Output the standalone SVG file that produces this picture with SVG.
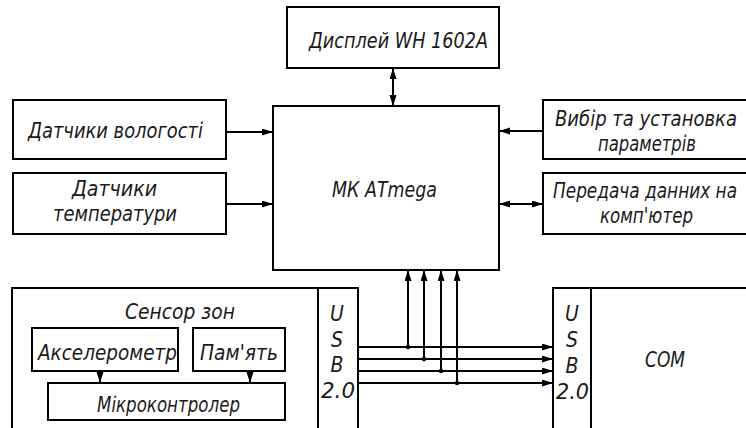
<svg xmlns="http://www.w3.org/2000/svg" width="746" height="428" viewBox="0 0 746 428">
<style>
rect{fill:#fff;stroke:#000;stroke-width:2}
.ln{fill:none;stroke:#000;stroke-width:2}
text{font-family:"DejaVu Sans Condensed","DejaVu Sans","Liberation Sans",sans-serif;font-stretch:condensed;font-style:italic;font-size:22px;fill:#1a1a1a}
.m{text-anchor:middle}
.u{font-size:21px}
</style>
<defs>
<marker id="ah" markerUnits="userSpaceOnUse" markerWidth="12" markerHeight="8" refX="11" refY="3.5" orient="auto-start-reverse"><path d="M0,0 L11,3.5 L0,7 z" fill="#000"/></marker>
</defs>
<g id="display"><rect x="287" y="7" width="212" height="61"/><text x="309" y="48" textLength="179" lengthAdjust="spacingAndGlyphs">Дисплей WH 1602A</text></g>
<g id="mk"><rect x="273" y="106" width="226" height="164"/><text x="332" y="197" textLength="105" lengthAdjust="spacingAndGlyphs">МК АТmega</text></g>
<g id="humidity"><rect x="13" y="100" width="213" height="59"/><text x="28" y="138" textLength="175" lengthAdjust="spacingAndGlyphs">Датчики вологості</text></g>
<g id="temperature"><rect x="13" y="173" width="213" height="61"/><text x="72" y="196" textLength="85" lengthAdjust="spacingAndGlyphs">Датчики</text><text x="53" y="221" textLength="124" lengthAdjust="spacingAndGlyphs">температури</text></g>
<g id="params"><rect x="543" y="100" width="210" height="59"/><text x="555" y="126" textLength="182" lengthAdjust="spacingAndGlyphs">Вибір та установка</text><text x="598" y="151" textLength="98" lengthAdjust="spacingAndGlyphs">параметрів</text></g>
<g id="transfer"><rect x="543" y="173" width="210" height="61"/><text x="553" y="198" textLength="184" lengthAdjust="spacingAndGlyphs">Передача данних на</text><text x="600" y="223" textLength="93" lengthAdjust="spacingAndGlyphs">комп'ютер</text></g>
<g id="sensor"><rect x="12" y="288" width="306" height="160"/><text x="125" y="319" textLength="110" lengthAdjust="spacingAndGlyphs">Сенсор зон</text></g>
<g id="usb1"><rect x="318" y="288" width="40" height="160"/><text class="m u" x="337" y="321">U</text><text class="m u" x="337" y="347">S</text><text class="m u" x="337" y="372">B</text><text class="u" x="321" y="398" textLength="34" lengthAdjust="spacingAndGlyphs">2.0</text></g>
<g id="accel"><rect x="32" y="328" width="146" height="43"/><text x="38" y="360" textLength="139" lengthAdjust="spacingAndGlyphs">Акселерометр</text></g>
<g id="memory"><rect x="193" y="328" width="92" height="43"/><text x="200" y="360" textLength="78" lengthAdjust="spacingAndGlyphs">Пам'ять</text></g>
<g id="micro"><rect x="48" y="383" width="237" height="37"/><text x="97" y="412" textLength="143" lengthAdjust="spacingAndGlyphs">Мікроконтролер</text></g>
<g id="usb2"><rect x="553" y="288" width="38" height="160"/><text class="m u" x="572" y="321">U</text><text class="m u" x="572" y="347">S</text><text class="m u" x="572" y="373">B</text><text class="u" x="556" y="399" textLength="33" lengthAdjust="spacingAndGlyphs">2.0</text></g>
<g id="com"><rect x="591" y="288" width="162" height="160"/><text x="645" y="367" textLength="40" lengthAdjust="spacingAndGlyphs">COM</text></g>
<g id="connectors">
<path class="ln" d="M393,68 V106" marker-start="url(#ah)" marker-end="url(#ah)"/>
<path class="ln" d="M226,132 H273" marker-end="url(#ah)"/>
<path class="ln" d="M226,204 H273" marker-end="url(#ah)"/>
<path class="ln" d="M543,131 H499" marker-end="url(#ah)"/>
<path class="ln" d="M499,204 H543" marker-start="url(#ah)" marker-end="url(#ah)"/>
<path class="ln" d="M358,347 H553" marker-end="url(#ah)"/>
<path class="ln" d="M358,359 H553" marker-end="url(#ah)"/>
<path class="ln" d="M358,371 H553" marker-end="url(#ah)"/>
<path class="ln" d="M358,383 H553" marker-end="url(#ah)"/>
<path class="ln" d="M408,347 V270" marker-end="url(#ah)"/>
<path class="ln" d="M424,359 V270" marker-end="url(#ah)"/>
<path class="ln" d="M441,371 V270" marker-end="url(#ah)"/>
<path class="ln" d="M457,383 V270" marker-end="url(#ah)"/>
<circle cx="408" cy="347" r="2.2"/><circle cx="424" cy="359" r="2.2"/><circle cx="441" cy="371" r="2.2"/><circle cx="457" cy="383" r="2.2"/>
<path class="ln" d="M100,371 V383" marker-end="url(#ah)"/>
<path class="ln" d="M250,371 V383" marker-end="url(#ah)"/>
</g>
</svg>
